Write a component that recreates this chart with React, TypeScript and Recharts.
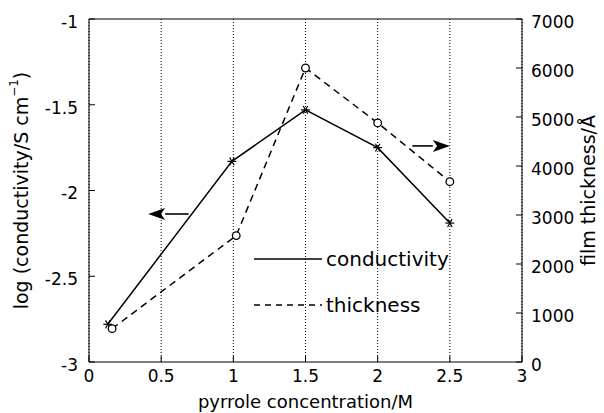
import React from "react";
import { LineChart, Line, XAxis, YAxis, CartesianGrid, ReferenceLine, Legend, Label } from "recharts";

// pyrrole concentration (M) for each series
const condConc = [0.13, 0.99, 1.5, 2, 2.5];
const conductivity = [-2.78, -1.83, -1.53, -1.75, -2.19];
const thickConc = [0.16, 1.02, 1.5, 2, 2.5];
const thickness = [680, 2580, 6000, 4880, 3680];

const xTicks = [0, 0.5, 1, 1.5, 2, 2.5, 3];
const leftTicks = [-3, -2.5, -2, -1.5, -1];
const rightTicks = [0, 1000, 2000, 3000, 4000, 5000, 6000, 7000];

// annotation arrows: [fromX, toX, y]
const leftArrow = [0.69, 0.41, -2.137];
const rightArrow = [2.24, 2.5, 4410];

const condData = condConc.map((x, i) => ({ x, v: conductivity[i] }));
const thickData = thickConc.map((x, i) => ({ x, v: thickness[i] }));

const FONT = "DejaVu Sans";
const TICK_LEN = 6;

const BottomTick = (props: any) => {
  const { x, y, payload } = props;
  const m = 8;
  return (
    <g>
      <line x1={x} y1={y - m} x2={x} y2={y - m - TICK_LEN} stroke="#000" strokeWidth={1} />
      <text x={x} y={y} dy="0.72em" textAnchor="middle" fontSize={17} fontFamily={FONT} fill="#000">
        {payload.value}
      </text>
    </g>
  );
};

const LeftTick = (props: any) => {
  const { x, y, payload } = props;
  const m = 11;
  return (
    <g>
      <line x1={x + m} y1={y} x2={x + m + TICK_LEN} y2={y} stroke="#000" strokeWidth={1} />
      <text x={x} y={y + 3} dy="0.35em" textAnchor="end" fontSize={17} fontFamily={FONT} fill="#000">
        {payload.value}
      </text>
    </g>
  );
};

const RightTick = (props: any) => {
  const { x, y, payload } = props;
  const m = 9;
  return (
    <g>
      <line x1={x - m} y1={y} x2={x - m - TICK_LEN} y2={y} stroke="#000" strokeWidth={1} />
      <text x={x} y={y + 3} dy="0.35em" textAnchor="start" fontSize={17} fontFamily={FONT} fill="#000">
        {payload.value}
      </text>
    </g>
  );
};

const StarDot = (props: any) => {
  const { cx, cy } = props;
  if (cx == null || cy == null) return null;
  const r = 4.5;
  return (
    <g stroke="#000" strokeWidth={1.2}>
      <line x1={cx - r} y1={cy} x2={cx + r} y2={cy} />
      <line x1={cx - r * 0.5} y1={cy - r * 0.87} x2={cx + r * 0.5} y2={cy + r * 0.87} />
      <line x1={cx - r * 0.5} y1={cy + r * 0.87} x2={cx + r * 0.5} y2={cy - r * 0.87} />
    </g>
  );
};

const CircleDot = (props: any) => {
  const { cx, cy } = props;
  if (cx == null || cy == null) return null;
  return <circle cx={cx} cy={cy} r={3.8} fill="#fff" stroke="#000" strokeWidth={1.3} />;
};

const Arrow = (props: any) => {
  const { x1, y1, x2, y2 } = props;
  const dir = x2 > x1 ? 1 : -1;
  const head = 17;
  const hw = 6;
  return (
    <g>
      <line x1={x1} y1={y1} x2={x2 - dir * head} y2={y2} stroke="#000" strokeWidth={1.6} />
      <polygon
        points={`${x2},${y2} ${x2 - dir * head},${y2 - hw} ${x2 - dir * head * 0.75},${y2} ${x2 - dir * head},${y2 + hw}`}
        fill="#000"
      />
    </g>
  );
};

const LegendBox = () => (
  <svg width={230} height={80} style={{ display: "block" }}>
    <line x1={4} y1={14} x2={72} y2={14} stroke="#000" strokeWidth={1.3} />
    <text x={76} y={14} dy="0.35em" fontSize={20} fontFamily={FONT} fill="#000">conductivity</text>
    <line x1={4} y1={60} x2={72} y2={60} stroke="#000" strokeWidth={1.3} strokeDasharray="6 5" />
    <text x={76} y={60} dy="0.35em" fontSize={20} fontFamily={FONT} fill="#000">thickness</text>
  </svg>
);

const LeftTitle = (props: any) => {
  const { viewBox } = props;
  const x = viewBox.x + 21;
  const y = viewBox.y + viewBox.height / 2;
  return (
    <text
      x={x}
      y={y}
      transform={`rotate(-90, ${x}, ${y})`}
      textAnchor="middle"
      dominantBaseline="central"
      fontSize={19}
      fontFamily={FONT}
      fill="#000"
    >
      log (conductivity/S cm
      <tspan dy={-7} fontSize={12}>−1</tspan>
      <tspan dy={7}>)</tspan>
    </text>
  );
};

const RightTitle = (props: any) => {
  const { viewBox } = props;
  const x = viewBox.x + 66;
  const y = viewBox.y + viewBox.height / 2;
  return (
    <text
      x={x}
      y={y}
      transform={`rotate(-90, ${x}, ${y})`}
      textAnchor="middle"
      dominantBaseline="central"
      fontSize={19}
      fontFamily={FONT}
      fill="#000"
    >
      film thickness/Å
    </text>
  );
};

export default function App() {
  return (
    <div style={{ position: "absolute", left: 0, top: 0, width: 604, height: 413, background: "#fff" }}>
      <LineChart width={604} height={413} margin={{ top: 19, right: 0, bottom: 0, left: 0 }} style={{ fontFamily: FONT }}>
        <CartesianGrid horizontal={false} stroke="#000" strokeDasharray="1 2" strokeWidth={1} yAxisId="left" />
        <XAxis
          dataKey="x"
          type="number"
          domain={[0, 3]}
          ticks={xTicks}
          allowDuplicatedCategory={false}
          height={51}
          stroke="#000"
          tickSize={0}
          tickLine={false}
          tickMargin={8}
          tick={<BottomTick />}
          interval={0}
        >
          <Label
            value="pyrrole concentration/M"
            position="insideBottom"
            offset={5}
            fontSize={18}
            fontFamily={FONT}
            fill="#000"
          />
        </XAxis>
        <YAxis
          yAxisId="left"
          type="number"
          domain={[-3, -1]}
          ticks={leftTicks}
          width={89}
          stroke="#000"
          tickSize={0}
          tickLine={false}
          tickMargin={11}
          tick={<LeftTick />}
          interval={0}
          label={<LeftTitle />}
        />
        <YAxis
          yAxisId="right"
          orientation="right"
          type="number"
          domain={[0, 7000]}
          ticks={rightTicks}
          width={82}
          stroke="#000"
          tickSize={0}
          tickLine={false}
          tickMargin={9}
          tick={<RightTick />}
          interval={0}
          label={<RightTitle />}
        />
        <ReferenceLine yAxisId="left" y={-1} stroke="#000" strokeWidth={1} />
        <ReferenceLine
          yAxisId="left"
          segment={[{ x: leftArrow[0], y: leftArrow[2] }, { x: leftArrow[1], y: leftArrow[2] }]}
          shape={<Arrow />}
        />
        <ReferenceLine
          yAxisId="right"
          segment={[{ x: rightArrow[0], y: rightArrow[2] }, { x: rightArrow[1], y: rightArrow[2] }]}
          shape={<Arrow />}
        />
        <Line
          yAxisId="left"
          data={condData}
          dataKey="v"
          type="linear"
          stroke="#000"
          strokeWidth={1.5}
          dot={<StarDot />}
          activeDot={false}
          isAnimationActive={false}
        />
        <Line
          yAxisId="right"
          data={thickData}
          dataKey="v"
          type="linear"
          stroke="#000"
          strokeWidth={1.5}
          strokeDasharray="7 5"
          dot={<CircleDot />}
          activeDot={false}
          isAnimationActive={false}
        />
        <Legend
          layout="vertical"
          align="center"
          verticalAlign="middle"
          wrapperStyle={{ left: 250, top: 245, width: 230, height: 80 }}
          content={() => <LegendBox />}
        />
      </LineChart>
    </div>
  );
}
